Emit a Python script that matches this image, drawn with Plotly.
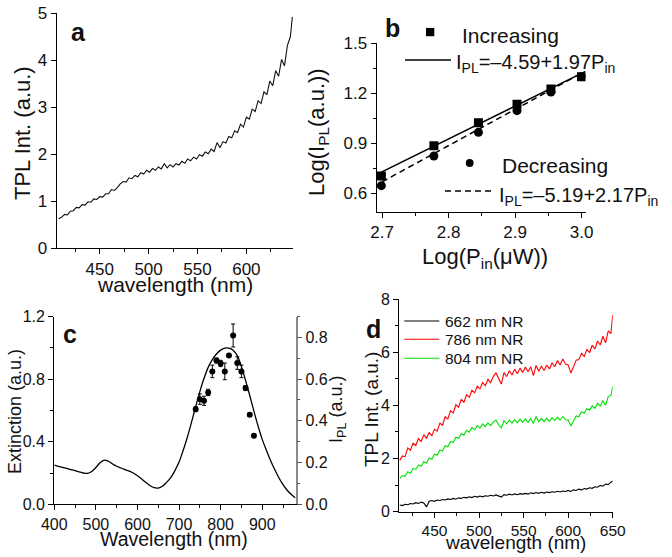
import plotly.graph_objects as go

W, H = 672, 557
FONT = "Liberation Sans, Arial, sans-serif"

# ---------------- Panel a data ----------------
a_wl = list(range(408, 646, 3)) + [647]
a_tpl = [0.63, 0.66, 0.72, 0.71, 0.79, 0.80, 0.87, 0.86, 0.93, 0.92,
         0.99, 0.98, 1.05, 1.04, 1.10, 1.09, 1.16, 1.16, 1.25, 1.23,
         1.29, 1.37, 1.42, 1.41, 1.50, 1.48, 1.55, 1.52, 1.61, 1.58,
         1.66, 1.62, 1.70, 1.66, 1.73, 1.69, 1.80, 1.71, 1.78, 1.73,
         1.80, 1.77, 1.85, 1.81, 1.90, 1.86, 1.94, 1.90, 1.99, 1.96,
         2.05, 2.01, 2.11, 2.06, 2.25, 2.14, 2.27, 2.24, 2.38, 2.35,
         2.50, 2.46, 2.64, 2.58, 2.79, 2.75, 2.96, 2.91, 3.14, 3.08,
         3.33, 3.27, 3.56, 3.46, 3.78, 3.66, 4.02, 3.88, 4.32, 4.50,
         4.92]

# ---------------- Panel b data ----------------
b_logp = [2.699, 2.778, 2.845, 2.903, 2.954, 3.000]
b_inc = [0.704, 0.886, 1.024, 1.135, 1.226, 1.300]
b_dec = [0.646, 0.824, 0.966, 1.096, 1.208, 1.300]
b_fit_inc_x = [2.696, 3.006]
b_fit_inc_y = [0.721, 1.332]
b_fit_dec_x = [2.700, 3.003]
b_fit_dec_y = [0.669, 1.327]

# ---------------- Panel c data ----------------
c_wl = list(range(400, 981, 10))
c_ext = [0.250, 0.243, 0.236, 0.229, 0.222, 0.215, 0.207, 0.200, 0.198, 0.210,
         0.235, 0.265, 0.282, 0.275, 0.258, 0.243, 0.232, 0.222, 0.212, 0.200,
         0.182, 0.162, 0.140, 0.120, 0.106, 0.104, 0.115, 0.140, 0.170, 0.215,
         0.270, 0.345, 0.430, 0.525, 0.625, 0.720, 0.805, 0.875, 0.925, 0.960,
         0.985, 0.998, 0.998, 0.985, 0.950, 0.880, 0.790, 0.695, 0.595, 0.500,
         0.415, 0.345, 0.280, 0.222, 0.170, 0.126, 0.090, 0.062, 0.040]
c_pt_wl = [740, 750, 760, 770, 780, 790, 800, 810, 820, 830, 840, 850, 860, 870, 880]
c_ipl = [0.456, 0.504, 0.496, 0.536, 0.637, 0.689, 0.675, 0.637, 0.713, 0.809,
         0.677, 0.637, 0.557, 0.429, 0.328]
c_err = [0.012, 0.025, 0.022, 0.015, 0.030, 0.012, 0.015, 0.040, 0.005, 0.055,
         0.030, 0.030, 0.012, 0.008, 0.005]

# ---------------- Panel d data ----------------
d_wl = list(range(411, 649, 3)) + [650]
d_662 = [0.25, 0.23, 0.28, 0.26, 0.31, 0.29, 0.34, 0.31, 0.36, 0.33,
         0.18, 0.39, 0.42, 0.39, 0.44, 0.42, 0.46, 0.44, 0.48, 0.46,
         0.50, 0.47, 0.52, 0.50, 0.54, 0.52, 0.56, 0.53, 0.58, 0.55,
         0.59, 0.56, 0.60, 0.58, 0.62, 0.59, 0.63, 0.60, 0.55, 0.64,
         0.62, 0.66, 0.63, 0.67, 0.64, 0.68, 0.66, 0.69, 0.66, 0.71,
         0.68, 0.72, 0.69, 0.73, 0.70, 0.74, 0.72, 0.75, 0.73, 0.77,
         0.74, 0.78, 0.76, 0.80, 0.76, 0.82, 0.80, 0.85, 0.82, 0.87,
         0.85, 0.90, 0.88, 0.94, 0.92, 0.99, 0.96, 1.04, 1.02, 1.11,
         1.16]
d_786 = [1.93, 2.10, 2.07, 2.40, 2.31, 2.58, 2.49, 2.75, 2.64, 2.90,
         2.76, 2.98, 2.86, 3.10, 3.03, 3.33, 3.25, 3.57, 3.49, 3.80,
         3.71, 4.02, 3.93, 4.22, 4.12, 4.40, 4.30, 4.57, 4.47, 4.72,
         4.62, 4.86, 4.74, 4.98, 4.85, 5.08, 5.22, 4.98, 4.80, 5.23,
         5.08, 5.30, 5.14, 5.36, 5.19, 5.40, 5.24, 5.44, 5.26, 5.45,
         5.12, 5.50, 5.28, 5.47, 5.31, 5.52, 5.37, 5.60, 5.45, 5.69,
         5.52, 5.74, 5.55, 5.52, 5.22, 5.45, 5.70, 5.72, 5.95, 5.84,
         6.10, 5.98, 6.26, 6.12, 6.42, 6.27, 6.60, 6.35, 6.80, 6.70,
         7.40]
d_804 = [1.25, 1.36, 1.33, 1.50, 1.45, 1.63, 1.59, 1.76, 1.71, 1.88,
         1.83, 2.02, 1.97, 2.16, 2.12, 2.32, 2.28, 2.48, 2.44, 2.64,
         2.60, 2.80, 2.75, 2.94, 2.88, 3.06, 2.99, 3.16, 3.08, 3.24,
         3.15, 3.30, 3.20, 3.34, 3.24, 3.38, 3.45, 3.27, 3.15, 3.42,
         3.30, 3.44, 3.33, 3.46, 3.34, 3.48, 3.36, 3.49, 3.37, 3.50,
         3.32, 3.58, 3.38, 3.51, 3.39, 3.52, 3.40, 3.54, 3.43, 3.56,
         3.45, 3.58, 3.46, 3.45, 3.22, 3.40, 3.60, 3.57, 3.76, 3.70,
         3.88, 3.82, 3.98, 3.89, 4.07, 3.97, 4.18, 4.00, 4.33, 4.38,
         4.70]
d_names = ["662 nm NR", "786 nm NR", "804 nm NR"]
d_colors = ["#000000", "#ff0000", "#00e000"]


def px(x):
    return x / W


def py(y):
    return 1 - y / H


fig = go.Figure()

# panel a
fig.add_trace(go.Scatter(x=a_wl, y=a_tpl, mode="lines", line=dict(color="#111", width=1.1),
                         xaxis="x", yaxis="y", showlegend=False))
# panel b
fig.add_trace(go.Scatter(x=b_fit_inc_x, y=b_fit_inc_y, mode="lines", line=dict(color="#000", width=1.5),
                         xaxis="x2", yaxis="y2", showlegend=False))
fig.add_trace(go.Scatter(x=b_fit_dec_x, y=b_fit_dec_y, mode="lines",
                         line=dict(color="#000", width=1.5, dash="6px,4px"),
                         xaxis="x2", yaxis="y2", showlegend=False))
fig.add_trace(go.Scatter(x=b_logp, y=b_inc, mode="markers", marker=dict(symbol="square", size=9, color="#000"),
                         xaxis="x2", yaxis="y2", showlegend=False))
fig.add_trace(go.Scatter(x=b_logp, y=b_dec, mode="markers", marker=dict(symbol="circle", size=9, color="#000"),
                         xaxis="x2", yaxis="y2", showlegend=False))
# panel c
fig.add_trace(go.Scatter(x=c_wl, y=c_ext, mode="lines", line=dict(color="#000", width=1.3, shape="spline"),
                         xaxis="x3", yaxis="y3", showlegend=False))
fig.add_trace(go.Scatter(x=c_pt_wl, y=c_ipl, mode="markers", marker=dict(size=6, color="#000"),
                         error_y=dict(type="data", array=c_err, color="#000", thickness=1, width=2),
                         xaxis="x3", yaxis="y4", showlegend=False))
# panel d
for ys, c in zip([d_662, d_786, d_804], d_colors):
    fig.add_trace(go.Scatter(x=d_wl, y=ys, mode="lines", line=dict(color=c, width=1.1),
                             xaxis="x5", yaxis="y5", showlegend=False))

axis_common = dict(showline=True, linecolor="#000", linewidth=1.3, ticks="outside", ticklen=5,
                   tickwidth=1.2, tickcolor="#000", showgrid=False, zeroline=False, mirror=False,
                   automargin=False)
tf17 = dict(family=FONT, size=17, color="#111")
tf16 = dict(family=FONT, size=16, color="#111")
tf15 = dict(family=FONT, size=15.5, color="#111")

fig.update_layout(
    width=W, height=H, margin=dict(l=0, r=0, t=0, b=0), autosize=False,
    paper_bgcolor="white", plot_bgcolor="white",
    xaxis=dict(domain=[px(56.7), px(293.3)], range=[406, 648], anchor="y", tickmode="linear",
               tick0=450, dtick=50, tickfont=tf17,
               minor=dict(ticks="outside", ticklen=3, tickcolor="#000", tick0=425, dtick=50), **axis_common),
    yaxis=dict(domain=[py(248.3), py(13.3)], range=[0, 5], anchor="x", tickmode="linear", tick0=0, dtick=1,
               tickfont=tf17, **axis_common),
    xaxis2=dict(domain=[px(376.7), px(585.5)], range=[2.692, 3.006], anchor="y2", tickmode="linear",
                tick0=2.7, dtick=0.1, tickformat=".1f", tickfont=tf17,
                minor=dict(ticks="outside", ticklen=3, tickcolor="#000", tick0=2.75, dtick=0.1), **axis_common),
    yaxis2=dict(domain=[py(211.7), py(43.3)], range=[0.49, 1.5], anchor="x2", tickmode="linear",
                tick0=0.6, dtick=0.3, tickformat=".1f", tickfont=tf17,
                minor=dict(ticks="outside", ticklen=3, tickcolor="#000", tick0=0.75, dtick=0.3), **axis_common),
    xaxis3=dict(domain=[px(54.3), px(295.5)], range=[400, 980], anchor="y3", tickmode="linear",
                tick0=400, dtick=100, tickfont=tf16,
                minor=dict(ticks="outside", ticklen=3, tickcolor="#000", tick0=450, dtick=100), **axis_common),
    yaxis3=dict(domain=[py(504.3), py(316.5)], range=[0, 1.2], anchor="x3", tickmode="linear",
                tick0=0, dtick=0.4, tickformat=".1f", tickfont=tf16,
                minor=dict(ticks="outside", ticklen=3, tickcolor="#000", tick0=0.2, dtick=0.4), **axis_common),
    yaxis4=dict(range=[0, 0.9], anchor="x3", overlaying="y3", side="right", tickmode="linear",
                tick0=0, dtick=0.2, tickformat=".1f", tickfont=tf16, automargin=False,
                showline=True, linecolor="#8a8a8a", linewidth=1.5, ticks="outside", ticklen=5,
                tickwidth=1.2, tickcolor="#555", showgrid=False, zeroline=False,
                minor=dict(ticks="outside", ticklen=3, tickcolor="#555", tick0=0.1, dtick=0.2)),
    xaxis5=dict(domain=[px(399.3), px(612.7)], range=[410.5, 650], anchor="y5", tickmode="linear",
                tick0=450, dtick=50, tickfont=tf15,
                minor=dict(ticks="outside", ticklen=3, tickcolor="#000", tick0=425, dtick=50), **axis_common),
    yaxis5=dict(domain=[py(511.7), py(299)], range=[0, 8], anchor="x5", tickmode="linear",
                tick0=0, dtick=2, tickfont=tf16,
                minor=dict(ticks="outside", ticklen=3, tickcolor="#000", tick0=1, dtick=2), **axis_common),
)


def ann(text, x, y, size, angle=0, xanchor="center", yanchor="middle", bold=False):
    fig.add_annotation(text=f"<b>{text}</b>" if bold else text, x=px(x), y=py(y), xref="paper", yref="paper",
                       showarrow=False, textangle=angle, xanchor=xanchor, yanchor=yanchor,
                       font=dict(family=FONT, size=size, color="#111"))


# panel letters
ann("a", 78, 32, 25, bold=True)
ann("b", 392, 28, 25, bold=True)
ann("c", 70, 334, 25, bold=True)
ann("d", 373, 329, 25, bold=True)

# axis titles
ann("TPL Int. (a.u.)", 23, 133, 22, angle=-90)
ann("wavelength (nm)", 175, 284, 21)
ann("Log(I<sub>PL</sub>(a.u.))", 318, 132, 22, angle=-90)
ann("Log(P<sub>in</sub>(μW))", 485, 258, 22)
ann("Extinction (a.u.)", 15, 412, 18, angle=-90)
ann("Wavelength (nm)", 174, 539, 19.5)
ann("I<sub>PL</sub> (a.u.)", 337, 410, 18, angle=-90)
ann("TPL Int. (a.u.)", 371, 410, 19, angle=-90)
ann("wavelength (nm)", 515, 542, 19)

# panel b legend
fig.add_shape(type="rect", xref="paper", yref="paper", x0=px(426), x1=px(434.3), y0=py(36.2), y1=py(27.9),
              fillcolor="#000", line=dict(width=0))
fig.add_shape(type="circle", xref="paper", yref="paper", x0=px(465.8), x1=px(473.6), y0=py(166.9), y1=py(159.1),
              fillcolor="#000", line=dict(width=0))
fig.add_shape(type="line", xref="paper", yref="paper", x0=px(405), x1=px(451), y0=py(60), y1=py(60),
              line=dict(color="#000", width=1.5))
fig.add_shape(type="line", xref="paper", yref="paper", x0=px(445), x1=px(492), y0=py(191), y1=py(191),
              line=dict(color="#000", width=1.5, dash="6px,4px"))
ann("Increasing", 460, 35, 21, xanchor="left")
ann("I<sub>PL</sub>=–4.59+1.97P<sub>in</sub>", 454, 63, 20, xanchor="left")
ann("Decreasing", 500, 165, 21, xanchor="left")
ann("I<sub>PL</sub>=–5.19+2.17P<sub>in</sub>", 497, 196, 20, xanchor="left")

# panel d legend
for yy, name, c in zip([321, 339.3, 358.3], d_names, d_colors):
    fig.add_shape(type="line", xref="paper", yref="paper", x0=px(404.3), x1=px(439.3), y0=py(yy), y1=py(yy),
                  line=dict(color=c, width=1.1))
    ann(name, 442.5, yy, 15.5, xanchor="left")

fig.write_html("out.html", config={"displayModeBar": False},
               post_script="document.body.style.margin='0';document.body.style.padding='0';")
